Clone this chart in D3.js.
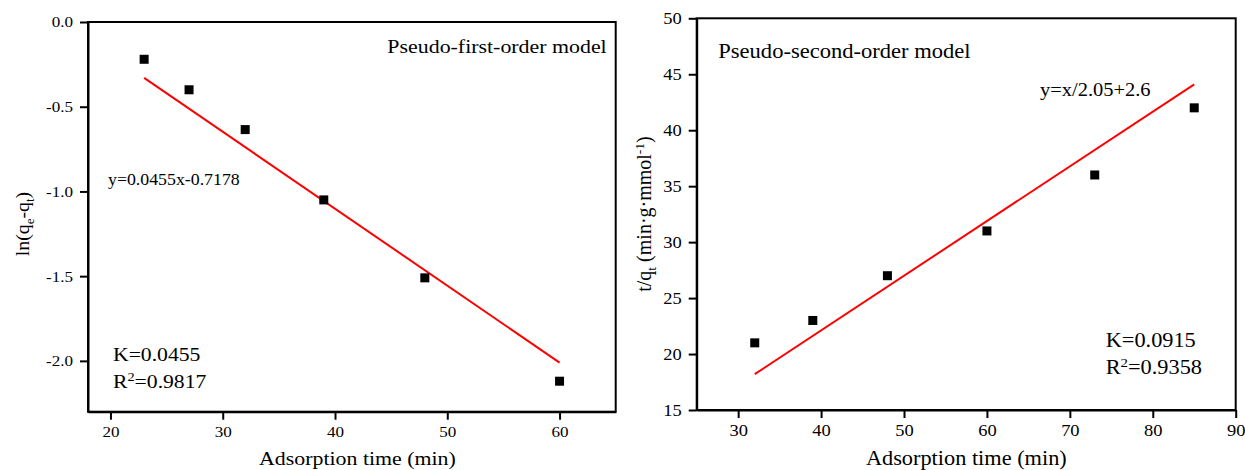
<!DOCTYPE html>
<head>
  <meta charset="utf-8">
  <title>Adsorption kinetics</title>
  <script src="https://cdn.jsdelivr.net/npm/d3@7"></script>
  <style>
    body { margin: 0; background: #fff; }
    svg { display: block; font-family: "Liberation Serif", "Times New Roman", serif; }
  </style>
</head>
<body>
<svg id="chart" width="1245" height="470"></svg>
<script>
// pseudo-first-order panel
var timeA = [23, 27, 32, 39, 48, 60]
var lnQ = [-0.22, -0.40, -0.635, -1.05, -1.51, -2.12]
var fitAX = [23, 60]
var fitAY = [-0.33, -2.01]
var xTicksA = [20, 30, 40, 50, 60]
var yTicksA = [0, -0.5, -1.0, -1.5, -2.0]

// pseudo-second-order panel
var timeB = [32, 39, 48, 60, 73, 85]
var tq = [21, 23, 27, 31, 36, 42]
var fitBX = [32, 85]
var fitBY = [18.2, 44.1]
var xTicksB = [30, 40, 50, 60, 70, 80, 90]
var yTicksB = [15, 20, 25, 30, 35, 40, 45, 50]

var SERIF = '"Liberation Serif", "Times New Roman", serif'
var SX = 1.1  // the source text is a bit wider than Times
var svg = d3.select('#chart')

function stretch(sel) {
  sel.each(function () {
    var t = d3.select(this)
    var x = +t.attr('x') || 0, y = +t.attr('y') || 0
    t.attr('x', 0).attr('y', 0)
     .attr('transform', 'translate(' + x + ',' + y + ') scale(' + SX + ',1)')
  })
  return sel
}

function label(x, y, fs, anchor) {
  var t = svg.append('text').attr('x', x).attr('y', y)
    .attr('font-size', fs).attr('fill', '#000')
    .attr('text-anchor', anchor || 'start')
  stretch(t)
  return t
}

function panel(o) {
  var x = d3.scaleLinear().domain(o.xd).range([o.l, o.r])
  var y = d3.scaleLinear().domain(o.yd).range([o.b, o.t])

  // box
  svg.append('rect').attr('x', o.l).attr('y', o.t)
    .attr('width', o.r - o.l).attr('height', o.b - o.t)
    .attr('fill', 'none').attr('stroke', '#000').attr('stroke-width', 2)

  var gx = svg.append('g').attr('transform', 'translate(0,' + o.b + ')')
    .call(d3.axisBottom(x).tickValues(o.xt).tickSize(8).tickSizeOuter(0).tickPadding(6).tickFormat(d3.format('d')))
  var gy = svg.append('g').attr('transform', 'translate(' + o.l + ',0)')
    .call(d3.axisLeft(y).tickValues(o.yt).tickSize(8).tickSizeOuter(0).tickPadding(7).tickFormat(o.yf))
  ;[gx, gy].forEach(function (g) {
    g.attr('font-family', SERIF).attr('font-size', o.tickFs)
    g.select('.domain').attr('stroke-width', 2)
    g.selectAll('.tick line').attr('stroke-width', 2)
    g.selectAll('.tick text').attr('fill', '#000').style('font-family', SERIF)
    stretch(g.selectAll('.tick text'))
  })

  // fit line
  svg.append('path')
    .datum(d3.zip(o.fx, o.fy))
    .attr('fill', 'none').attr('stroke', '#ff0000').attr('stroke-width', 2)
    .attr('d', d3.line().x(function (d) { return x(d[0]) }).y(function (d) { return y(d[1]) }))

  // points
  var s = 9
  svg.append('g').selectAll('rect')
    .data(d3.zip(o.px, o.py)).enter().append('rect')
    .attr('x', function (d) { return x(d[0]) - s / 2 })
    .attr('y', function (d) { return y(d[1]) - s / 2 })
    .attr('width', s).attr('height', s).attr('fill', '#000')
}

panel({ l: 88, t: 22, r: 615.7, b: 411.7, xd: [18, 65], yd: [-2.3, 0],
  xt: xTicksA, yt: yTicksA, yf: function (d) { return d.toFixed(1) },
  px: timeA, py: lnQ, fx: fitAX, fy: fitAY, tickFs: 15.5 })

panel({ l: 696.7, t: 18.3, r: 1235.7, b: 410, xd: [25, 90], yd: [15, 50],
  xt: xTicksB, yt: yTicksB, yf: d3.format('d'),
  px: timeB, py: tq, fx: fitBX, fy: fitBY, tickFs: 16.8 })

// left panel texts
label(606.7, 53, 19.9, 'end').text('Pseudo-first-order model')
label(108, 184.5, 16.2).text('y=0.0455x-0.7178')
label(113, 360.7, 19.7).text('K=0.0455')
var r1 = label(113, 388.3, 19.7)
r1.append('tspan').text('R')
r1.append('tspan').attr('dy', -7).attr('font-size', 13).text('2')
r1.append('tspan').attr('dy', 7).text('=0.9817')
label(357.4, 465, 19.9, 'middle').text('Adsorption time (min)')

var yl = svg.append('text').attr('transform', 'translate(29,224) rotate(-90)')
  .attr('text-anchor', 'middle').attr('font-size', 19.8)
yl.append('tspan').text('ln(q')
yl.append('tspan').attr('dy', 5).attr('font-size', 13).text('e')
yl.append('tspan').attr('dy', -5).text('-q')
yl.append('tspan').attr('dy', 5).attr('font-size', 13).text('t')
yl.append('tspan').attr('dy', -5).text(')')

// right panel texts
label(718.3, 58, 20.5).text('Pseudo-second-order model')
label(1040, 96, 18.6).text('y=x/2.05+2.6')
label(1105.7, 346.7, 20.3).text('K=0.0915')
var r2 = label(1105.7, 374, 20.3)
r2.append('tspan').text('R')
r2.append('tspan').attr('dy', -7).attr('font-size', 13.5).text('2')
r2.append('tspan').attr('dy', 7).text('=0.9358')
label(966.3, 465, 20.3, 'middle').text('Adsorption time (min)')

var yr = svg.append('text').attr('transform', 'translate(651,214) rotate(-90)')
  .attr('text-anchor', 'middle').attr('font-size', 20)
yr.append('tspan').text('t/q')
yr.append('tspan').attr('dy', 5).attr('font-size', 13.5).text('t')
yr.append('tspan').attr('dy', -5).text(' (min\u00b7g\u00b7mmol')
yr.append('tspan').attr('dy', -7).attr('font-size', 13.5).text('-1')
yr.append('tspan').attr('dy', 7).text(')')
</script>
</body>
